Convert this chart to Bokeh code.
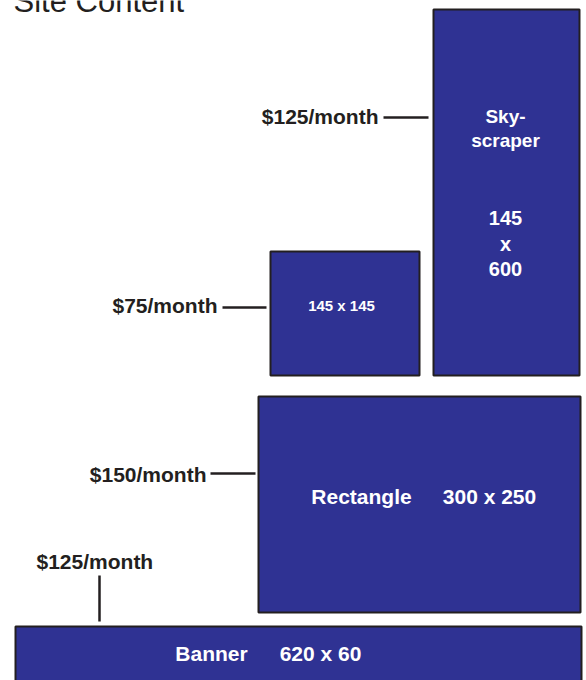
from bokeh.plotting import figure
from bokeh.models import Range1d, ColumnDataSource
from bokeh.core.properties import value
from bokeh.embed import file_html
from bokeh.resources import INLINE

# ---- data ----
title = "Site Content"
ad_names = ["Sky-scraper", "Square", "Rectangle", "Banner"]
ad_w = [145, 145, 300, 620]
ad_h = [600, 145, 250, 60]
prices = [125, 75, 150, 125]

# ---- layout (screen pixel coordinates) ----
box_left = [433, 270, 258, 15]
box_right = [579, 419, 580, 581]
box_top = [9, 251, 396, 626]
box_bottom = [375, 375, 612, 700]

FILL = "#2f3293"
DARK = "#231f20"
FONT = value("Liberation Sans")

W, H = 586, 680
p = figure(width=W, height=H, x_range=Range1d(0, W), y_range=Range1d(H, 0),
           output_backend="svg", toolbar_location=None, min_border=0)
p.axis.visible = False
p.grid.visible = False
p.outline_line_color = None
p.background_fill_color = "white"

p.quad(left=box_left, right=box_right, top=box_top, bottom=box_bottom,
       fill_color=FILL, line_color=DARK, line_width=2)


def base(ys, size):
    # place the visual baseline at the requested pixel rows
    return [y - 0.4 * size for y in ys]


# title
p.text(x=[13], y=base([13], 31), text=[title], text_font=FONT, text_font_size="31px",
       text_color=DARK, text_baseline="alphabetic", text_align="left")

# price labels
price_txt = [f"${v}/month" for v in prices]
lab = ColumnDataSource(dict(x=[378, 217, 206, 36], y=base([124, 313, 482, 569], 21),
                            t=price_txt, a=["right", "right", "right", "left"]))
p.text(x="x", y="y", text="t", text_align="a", source=lab, text_font=FONT,
       text_font_size="21px", text_font_style="bold", text_color=DARK,
       text_baseline="alphabetic")

# connectors
p.segment(x0=[383, 222, 210, 99], y0=[117, 307, 473, 575],
          x1=[428, 266, 255, 99], y1=[117, 307, 473, 621],
          line_color=DARK, line_width=2.5)

# skyscraper labels
sky_parts = ad_names[0].split("-")
p.text(x=[505, 505], y=base([124, 148], 19), text=[sky_parts[0] + "-", sky_parts[1]],
       text_font=FONT, text_font_size="19px", text_font_style="bold",
       text_color="white", text_align="center", text_baseline="alphabetic")
p.text(x=[505, 505, 505], y=base([225, 251, 276], 20),
       text=[str(ad_w[0]), "x", str(ad_h[0])],
       text_font=FONT, text_font_size="20px", text_font_style="bold",
       text_color="white", text_align="center", text_baseline="alphabetic")

# square label
p.text(x=[341], y=base([311], 15), text=[f"{ad_w[1]} x {ad_h[1]}"], text_font=FONT,
       text_font_size="15px", text_font_style="bold", text_color="white",
       text_align="center", text_baseline="alphabetic")

# rectangle & banner labels
p.text(x=[361, 489, 211, 320], y=base([504, 504, 661, 661], 21),
       text=[ad_names[2], f"{ad_w[2]} x {ad_h[2]}", ad_names[3], f"{ad_w[3]} x {ad_h[3]}"],
       text_font=FONT, text_font_size="21px", text_font_style="bold",
       text_color="white", text_align="center", text_baseline="alphabetic")

open("out.html", "w").write(file_html(p, INLINE))
